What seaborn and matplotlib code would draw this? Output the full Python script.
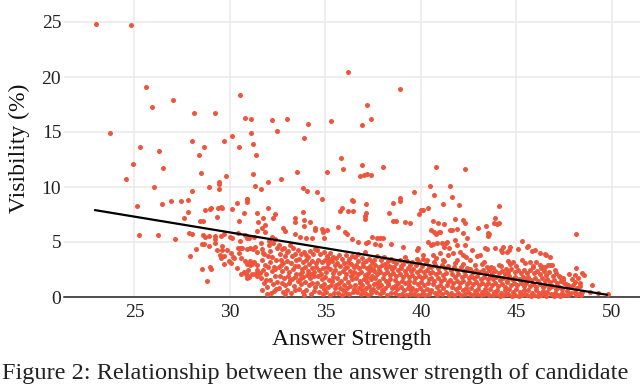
import matplotlib
matplotlib.use("Agg")
import matplotlib.pyplot as plt
import pandas as pd
import seaborn as sns

# points (answer strength, visibility %)
# outliers / sparse points high above the fit line
upper_pts = [
    (23.0, 24.8), (24.8, 24.7), (25.6, 19.1), (25.9, 17.3), (27.0, 17.9), (28.1, 16.75),
    (29.2, 16.7), (23.7, 14.9), (25.3, 13.6), (26.3, 13.3), (28.0, 14.15), (28.65, 13.6),
    (28.4, 12.9), (24.9, 12.05), (26.5, 11.7), (28.5, 11.3), (24.55, 10.7), (26.0, 9.97),
    (28.0, 9.6), (28.9, 9.97), (29.4, 10.5), (29.4, 9.8), (29.45, 10.3),
    (36.2, 20.5), (38.9, 18.9), (30.5, 18.4), (30.8, 16.3), (31.1, 16.2), (32.2, 16.1),
    (33.0, 16.2), (34.1, 15.75), (35.3, 16.0), (37.2, 17.5), (37.4, 16.15), (36.9, 15.6),
    (31.1, 14.9), (32.45, 15.1), (30.1, 14.6), (29.7, 14.2), (30.45, 13.6), (31.2, 13.9),
    (33.9, 14.5), (31.35, 12.9), (35.8, 12.65), (35.9, 11.65), (36.9, 12.0), (38.0, 11.85),
    (36.8, 11.0), (37.0, 11.1), (37.2, 11.2), (37.4, 11.1), (35.1, 11.35), (33.5, 11.35),
    (31.2, 11.2), (29.8, 10.97), (32.0, 10.5), (32.65, 10.7), (31.3, 10.1), (31.65, 9.8),
    (33.8, 9.9), (34.05, 9.6), (34.55, 9.55), (34.8, 8.95), (30.9, 8.95), (36.4, 8.8),
    (38.9, 9.0), (39.65, 9.55), (40.8, 11.85), (42.3, 11.65), (40.5, 10.1), (41.5, 10.1),
    (40.7, 9.3), (41.6, 9.1), (48.1, 5.75), (25.13, 8.28), (25.24, 5.64), (26.23, 5.64),
]

# left part of the cloud, strength 26-31.5
left_pts = [
    (26.43, 8.42), (26.92, 8.72), (27.46, 8.75), (27.79, 8.82), (27.81, 7.76), (27.58, 7.15),
    (28.43, 6.94), (28.61, 6.94), (28.68, 7.91), (28.94, 8.0), (29.03, 8.06), (29.38, 8.06),
    (29.53, 8.21), (29.59, 8.06), (29.34, 7.27), (30.11, 8.0), (30.35, 8.51), (30.46, 6.91),
    (30.88, 8.91), (30.91, 8.66), (30.72, 7.6), (31.49, 6.85), (27.11, 5.24), (27.88, 5.79),
    (28.02, 5.73), (28.61, 5.64), (28.68, 5.45), (28.91, 5.51), (29.2, 5.57), (29.24, 5.24),
    (29.53, 5.51), (29.69, 5.7), (29.99, 5.48), (30.09, 5.39), (30.42, 5.85), (30.55, 5.12),
    (30.79, 5.64), (30.91, 5.39), (31.02, 5.39), (31.24, 5.42), (31.44, 6.03), (28.54, 4.79),
    (28.63, 4.79), (28.22, 4.36), (27.89, 3.73), (28.89, 4.66), (29.22, 4.94), (29.34, 4.27),
    (29.57, 4.66), (29.6, 4.27), (29.71, 3.73), (29.85, 4.27), (30.07, 3.97), (30.14, 3.6),
    (30.41, 4.42), (30.55, 4.42), (30.65, 4.48), (30.48, 4.03), (30.58, 3.51), (30.91, 4.33),
    (31.05, 4.42), (31.23, 4.33), (31.33, 4.57), (31.4, 4.12), (29.48, 3.82), (29.53, 3.51),
    (29.69, 3.0), (29.94, 3.27), (30.06, 3.09), (30.21, 3.57), (30.39, 2.66), (30.81, 3.3),
    (30.91, 3.03), (31.03, 3.27), (31.05, 2.91), (31.16, 2.97), (31.28, 3.21), (31.4, 2.91),
    (31.49, 2.3), (28.56, 2.54), (28.98, 2.76), (28.99, 2.54), (28.8, 1.48), (30.58, 2.12),
    (30.74, 2.24), (30.84, 2.12), (30.91, 2.0), (31.02, 1.85), (31.14, 2.12), (31.31, 2.06),
    (31.44, 1.88), (30.97, 2.42), (31.4, 2.45), (30.88, 1.7),
]

# sparse points above the dense band, strength 31.5-42
mid_pts = [
    (32.0, 8.06), (32.34, 7.51), (32.27, 7.15), (33.4, 7.15), (33.4, 6.85), (33.87, 7.0),
    (33.87, 6.45), (34.43, 6.06), (34.47, 6.24), (34.82, 6.15), (31.81, 6.54), (31.66, 6.24),
    (31.85, 5.94), (32.79, 6.24), (32.88, 6.03), (33.39, 5.73), (33.66, 5.48), (33.98, 5.33),
    (34.27, 5.33), (34.89, 5.94), (34.92, 5.33), (35.64, 6.33), (36.02, 5.94), (36.14, 5.7),
    (36.37, 5.24), (36.72, 5.03), (32.22, 5.42), (32.34, 5.27), (35.76, 7.85), (35.88, 8.06),
    (36.2, 7.82), (36.44, 7.85), (36.42, 8.72), (31.4, 7.61), (31.75, 7.15), (33.84, 7.76),
    (34.19, 6.85), (35.06, 6.1), (37.1, 8.5), (37.11, 7.61), (38.35, 7.61), (38.55, 8.51),
    (38.9, 8.72), (37.07, 7.39), (37.07, 7.09), (38.55, 6.94), (38.68, 6.94), (39.17, 6.85),
    (39.43, 6.7), (39.99, 7.91), (40.13, 7.91), (40.35, 8.12), (39.88, 7.54), (40.61, 6.94),
    (40.91, 6.7), (41.17, 8.45), (41.61, 6.09), (40.51, 6.09), (40.68, 5.94), (40.96, 5.88),
    (40.79, 5.7), (37.42, 5.48), (37.68, 5.33), (37.86, 5.39), (38.03, 5.33), (37.12, 4.88),
    (37.25, 5.03), (37.6, 4.79), (37.86, 4.73), (38.42, 4.85), (39.08, 4.57), (39.86, 4.42),
    (39.78, 4.27), (40.39, 5.03), (40.51, 4.73), (40.65, 4.79), (40.82, 4.88), (41.09, 4.88),
    (41.21, 4.57), (41.38, 5.03), (41.49, 4.42), (41.78, 5.18), (41.9, 4.73), (41.0, 3.97),
    (40.65, 3.82), (40.79, 3.51), (41.17, 3.36), (41.43, 3.82), (41.7, 3.97), (41.87, 3.36),
    (40.13, 3.82), (40.3, 3.36),
]

# sparse points above the dense band, strength 41-50
right_pts = [
    (41.97, 8.36), (44.1, 8.27), (43.9, 7.2), (41.8, 7.1), (42.3, 6.75), (41.2, 6.6),
    (41.5, 6.1), (41.9, 6.2), (42.2, 5.85), (41.0, 5.9), (43.0, 6.25), (43.4, 6.5),
    (43.8, 6.7), (44.1, 6.75), (43.55, 5.7), (45.3, 5.1), (45.6, 4.6), (41.3, 4.9),
    (42.3, 4.7), (42.65, 4.3), (44.2, 4.3), (44.6, 4.3), (45.8, 4.2), (43.96, 6.6),
    (42.21, 7.0), (42.39, 5.33), (43.52, 5.79), (43.52, 5.54), (45.53, 4.57), (43.35, 4.48),
    (43.44, 4.33), (43.87, 4.48), (44.31, 4.57), (44.66, 4.57), (44.22, 4.06), (44.48, 4.12),
    (45.09, 4.33), (45.97, 4.27), (46.23, 3.97), (46.54, 3.82), (46.75, 3.64), (42.04, 4.06),
    (42.21, 3.82), (42.35, 3.66), (42.56, 3.36), (42.91, 3.73), (43.09, 3.82), (43.3, 3.21),
    (43.44, 2.76), (43.79, 2.6), (44.1, 2.91), (44.57, 3.3), (44.83, 3.21), (45.27, 3.36),
    (45.44, 3.06), (45.7, 3.21), (45.88, 2.82), (46.05, 3.21), (46.23, 2.91), (46.49, 2.76),
    (46.75, 2.91), (47.01, 2.45), (47.28, 1.85), (47.45, 1.54), (47.77, 2.06), (48.06, 2.0),
    (48.1, 2.66), (48.41, 2.15), (48.53, 2.0), (48.06, 1.39), (48.32, 1.24), (48.97, 1.09),
    (47.71, 1.09), (48.85, 0.48), (49.28, 0.33), (49.77, 0.27), (46.84, 2.91), (46.4, 2.76),
    (46.67, 2.91), (46.49, 3.88),
]

# dense band under the line, strength 31.5-36.5
band_a = [
    (31.62, 4.95), (31.7, 4.4), (31.78, 3.9), (31.66, 3.35), (31.85, 2.95), (31.72, 2.5),
    (31.9, 2.1), (31.64, 1.75), (31.8, 1.3), (31.95, 0.95), (31.7, 0.6), (32.05, 4.7),
    (32.12, 4.15), (32.2, 3.6), (32.08, 3.15), (32.3, 2.75), (32.18, 2.35), (32.35, 1.95),
    (32.1, 1.55), (32.27, 1.15), (32.4, 0.75), (32.15, 0.35), (32.45, 4.45), (32.42, 3.4),
    (32.38, 2.55), (31.98, 3.7), (31.88, 1.55), (32.0, 2.7), (32.25, 4.9), (31.58, 2.2),
    (32.47, 1.4), (31.93, 0.3), (32.33, 0.55), (31.75, 4.0), (32.02, 5.1),
    (32.55, 4.75), (32.7, 4.4), (32.83, 4.5), (32.6, 3.95), (32.9, 3.7), (33.05, 4.2),
    (33.15, 4.75), (33.3, 4.45), (33.4, 3.9), (32.65, 3.4), (32.8, 3.05), (33.0, 3.3),
    (33.2, 3.1), (33.45, 3.35), (32.58, 2.7), (32.75, 2.4), (32.95, 2.6), (33.1, 2.25),
    (33.3, 2.55), (33.48, 2.1), (32.62, 1.95), (32.85, 1.7), (33.02, 1.9), (33.25, 1.6),
    (33.4, 1.8), (32.7, 1.3), (32.9, 1.05), (33.1, 1.25), (33.35, 1.0), (32.55, 0.8),
    (32.78, 0.5), (33.0, 0.65), (33.2, 0.35), (33.43, 0.6), (32.88, 0.25), (33.15, 1.55),
    (32.68, 2.9), (33.38, 2.85), (32.98, 4.05), (33.27, 3.75),
    (33.55, 4.3), (33.7, 3.95), (33.87, 4.12), (34.0, 3.8), (34.19, 4.18), (34.35, 3.95),
    (34.45, 4.4), (33.62, 3.45), (33.8, 3.2), (34.0, 3.4), (34.15, 3.0), (34.3, 3.3),
    (34.48, 3.05), (33.58, 2.8), (33.75, 2.55), (33.95, 2.75), (34.1, 2.4), (34.28, 2.65),
    (34.42, 2.3), (33.65, 2.05), (33.85, 1.8), (34.02, 2.0), (34.2, 1.7), (34.38, 1.95),
    (33.55, 1.45), (33.72, 1.2), (33.92, 1.35), (34.12, 1.05), (34.32, 1.3), (34.47, 0.95),
    (33.6, 0.7), (33.8, 0.45), (34.0, 0.6), (34.22, 0.3), (34.4, 0.55), (33.9, 0.2),
    (34.25, 2.1), (33.68, 1.65), (34.08, 3.65), (33.78, 2.3),
    (34.55, 4.25), (34.71, 3.9), (34.9, 4.1), (35.06, 3.75), (35.25, 4.0), (35.4, 3.6),
    (34.6, 3.4), (34.8, 3.15), (34.97, 3.35), (35.15, 3.05), (35.32, 3.3), (35.5, 2.95),
    (34.52, 2.7), (34.68, 2.45), (34.88, 2.65), (35.05, 2.3), (35.22, 2.55), (35.42, 2.2),
    (34.62, 1.9), (34.82, 1.65), (35.0, 1.85), (35.18, 1.55), (35.38, 1.8), (34.55, 1.25),
    (34.75, 1.0), (34.95, 1.2), (35.12, 0.9), (35.3, 1.1), (35.48, 0.8), (34.65, 0.5),
    (34.85, 0.3), (35.05, 0.45), (35.25, 0.2), (35.45, 0.4), (35.1, 2.75), (34.78, 2.05),
    (35.35, 1.45), (34.92, 0.7), (35.2, 3.5),
    (35.55, 3.55), (35.7, 3.85), (35.88, 3.5), (36.07, 3.82), (36.25, 3.45), (36.4, 3.7),
    (35.6, 3.1), (35.78, 2.85), (35.95, 3.05), (36.15, 2.75), (36.32, 3.0), (36.48, 2.7),
    (35.52, 2.45), (35.7, 2.2), (35.9, 2.4), (36.08, 2.1), (36.28, 2.35), (36.45, 2.05),
    (35.62, 1.75), (35.82, 1.5), (36.0, 1.7), (36.2, 1.4), (36.38, 1.65), (35.55, 1.1),
    (35.75, 0.85), (35.95, 1.05), (36.12, 0.8), (36.3, 1.0), (36.47, 0.7), (35.65, 0.35),
    (35.85, 0.2), (36.05, 0.4), (36.25, 0.25), (36.42, 0.45), (36.0, 2.6), (35.72, 1.3),
    (36.35, 1.9), (35.9, 0.6), (36.18, 3.2),
]

# dense band, strength 36.5-41.5
band_b = [
    (36.54, 3.6), (36.72, 3.3), (36.9, 3.55), (37.1, 3.25), (37.3, 3.5), (37.45, 3.2),
    (36.6, 2.9), (36.78, 2.65), (36.95, 2.85), (37.15, 2.6), (37.35, 2.8), (37.5, 2.55),
    (36.52, 2.3), (36.7, 2.05), (36.88, 2.25), (37.05, 2.0), (37.25, 2.2), (37.42, 1.95),
    (36.62, 1.7), (36.8, 1.45), (37.0, 1.65), (37.2, 1.4), (37.38, 1.6), (36.55, 1.1),
    (36.75, 0.85), (36.93, 1.05), (37.12, 0.8), (37.3, 1.0), (37.48, 0.75), (36.65, 0.45),
    (36.85, 0.25), (37.05, 0.4), (37.22, 0.2), (37.4, 0.35), (36.98, 3.05), (37.18, 1.8),
    (36.82, 1.25), (37.32, 2.45), (36.68, 3.9), (37.08, 4.1), (37.4, 0.6), (36.9, 0.6),
    (37.55, 3.4), (37.72, 3.7), (37.9, 3.35), (38.08, 3.6), (38.25, 3.25), (38.42, 3.5),
    (37.6, 2.95), (37.8, 2.7), (37.98, 2.9), (38.15, 2.6), (38.35, 2.85), (38.5, 2.55),
    (37.52, 2.35), (37.7, 2.1), (37.88, 2.3), (38.05, 2.05), (38.22, 2.25), (38.4, 2.0),
    (37.62, 1.75), (37.82, 1.5), (38.0, 1.7), (38.18, 1.45), (38.38, 1.65), (37.55, 1.15),
    (37.75, 0.9), (37.93, 1.1), (38.12, 0.85), (38.3, 1.05), (38.47, 0.8), (37.65, 0.5),
    (37.85, 0.3), (38.03, 0.45), (38.22, 0.2), (38.42, 0.4), (38.1, 3.0), (37.78, 2.45),
    (38.3, 1.3), (37.95, 0.65), (38.45, 2.7), (37.68, 1.25),
    (38.55, 3.3), (38.72, 3.05), (38.9, 3.35), (39.08, 3.0), (39.25, 3.25), (39.42, 2.95),
    (38.6, 2.7), (38.78, 2.45), (38.95, 2.65), (39.15, 2.4), (39.32, 2.6), (39.5, 2.35),
    (38.52, 2.15), (38.7, 1.9), (38.88, 2.1), (39.05, 1.85), (39.22, 2.05), (39.4, 1.8),
    (38.62, 1.55), (38.82, 1.3), (39.0, 1.5), (39.18, 1.25), (39.38, 1.45), (38.55, 0.95),
    (38.75, 0.7), (38.93, 0.9), (39.12, 0.65), (39.3, 0.85), (39.48, 0.6), (38.65, 0.35),
    (38.85, 0.2), (39.03, 0.3), (39.22, 0.15), (39.42, 0.3), (38.98, 2.85), (39.35, 1.05),
    (38.68, 1.1), (39.15, 3.6),
    (39.55, 3.15), (39.72, 2.9), (39.9, 3.2), (40.08, 2.85), (40.25, 3.1), (40.42, 2.8),
    (39.6, 2.55), (39.78, 2.3), (39.95, 2.5), (40.15, 2.25), (40.32, 2.45), (40.5, 2.2),
    (39.52, 2.0), (39.7, 1.75), (39.88, 1.95), (40.05, 1.7), (40.22, 1.9), (40.4, 1.65),
    (39.62, 1.4), (39.82, 1.15), (40.0, 1.35), (40.18, 1.1), (40.38, 1.3), (39.55, 0.85),
    (39.75, 0.6), (39.93, 0.8), (40.12, 0.55), (40.3, 0.75), (40.47, 0.5), (39.65, 0.3),
    (39.85, 0.15), (40.03, 0.25), (40.22, 0.15), (40.42, 0.25), (39.78, 3.5), (40.1, 3.5),
    (40.55, 2.7), (40.72, 2.95), (40.9, 2.65), (41.08, 2.9), (41.25, 2.6), (41.42, 2.85),
    (40.6, 2.3), (40.78, 2.05), (40.95, 2.25), (41.15, 2.0), (41.32, 2.2), (40.52, 1.75),
    (40.7, 1.5), (40.88, 1.7), (41.05, 1.45), (41.22, 1.65), (41.4, 1.4), (40.62, 1.15),
    (40.82, 0.9), (41.0, 1.1), (41.18, 0.85), (41.38, 1.05), (40.55, 0.6), (40.75, 0.35),
    (40.93, 0.55), (41.12, 0.3), (41.3, 0.5), (41.48, 0.2), (40.85, 0.15), (41.2, 3.3),
    (40.68, 3.2),
]

# dense band, strength 41.5-48.5
band_c = [
    (41.55, 2.5), (41.72, 2.75), (41.9, 2.45), (42.08, 2.7), (42.25, 2.4), (42.42, 2.65),
    (41.6, 2.1), (41.78, 1.85), (41.95, 2.05), (42.15, 1.8), (42.32, 2.0), (42.5, 1.75),
    (41.52, 1.55), (41.7, 1.3), (41.88, 1.5), (42.05, 1.25), (42.22, 1.45), (42.4, 1.2),
    (41.62, 0.95), (41.82, 0.7), (42.0, 0.9), (42.18, 0.65), (42.38, 0.85), (41.55, 0.4),
    (41.75, 0.2), (41.93, 0.35), (42.12, 0.15), (42.3, 0.3), (42.47, 0.45), (41.8, 3.1),
    (42.2, 3.0),
    (42.55, 2.55), (42.72, 2.3), (42.9, 2.5), (43.08, 2.25), (43.25, 2.45), (43.42, 2.2),
    (42.6, 1.95), (42.78, 1.7), (42.95, 1.9), (43.15, 1.65), (43.32, 1.85), (43.5, 1.6),
    (42.52, 1.4), (42.7, 1.15), (42.88, 1.35), (43.05, 1.1), (43.22, 1.3), (43.4, 1.05),
    (42.62, 0.8), (42.82, 0.55), (43.0, 0.75), (43.18, 0.5), (43.38, 0.7), (42.55, 0.25),
    (42.75, 0.15), (42.93, 0.3), (43.12, 0.15), (43.3, 0.25), (43.47, 0.4), (42.85, 2.9),
    (43.2, 3.0),
    (43.55, 2.45), (43.72, 2.2), (43.9, 2.4), (44.08, 2.15), (44.25, 2.35), (44.42, 2.1),
    (43.6, 1.85), (43.78, 1.6), (43.95, 1.8), (44.15, 1.55), (44.32, 1.75), (44.5, 1.5),
    (43.52, 1.3), (43.7, 1.05), (43.88, 1.25), (44.05, 1.0), (44.22, 1.2), (44.4, 0.95),
    (43.62, 0.7), (43.82, 0.45), (44.0, 0.65), (44.18, 0.4), (44.38, 0.6), (43.55, 0.2),
    (43.75, 0.15), (43.93, 0.25), (44.12, 0.12), (44.3, 0.2), (44.47, 0.3), (43.65, 2.75),
    (44.2, 2.8), (44.45, 2.55),
    (44.55, 2.3), (44.72, 2.55), (44.9, 2.25), (45.08, 2.5), (45.25, 2.2), (45.42, 2.45),
    (44.6, 1.9), (44.78, 1.65), (44.95, 1.85), (45.15, 1.6), (45.32, 1.8), (45.5, 1.55),
    (44.52, 1.35), (44.7, 1.1), (44.88, 1.3), (45.05, 1.05), (45.22, 1.25), (45.4, 1.0),
    (44.62, 0.75), (44.82, 0.5), (45.0, 0.7), (45.18, 0.45), (45.38, 0.65), (44.55, 0.25),
    (44.75, 0.12), (44.93, 0.2), (45.12, 0.1), (45.3, 0.18), (45.47, 0.3), (45.0, 2.85),
    (44.68, 3.0),
    (45.55, 2.2), (45.72, 2.45), (45.9, 2.15), (46.08, 2.4), (46.25, 2.1), (46.42, 2.35),
    (45.6, 1.8), (45.78, 1.55), (45.95, 1.75), (46.15, 1.5), (46.32, 1.7), (46.5, 1.45),
    (45.52, 1.25), (45.7, 1.0), (45.88, 1.2), (46.05, 0.95), (46.22, 1.15), (46.4, 0.9),
    (45.62, 0.65), (45.82, 0.4), (46.0, 0.6), (46.18, 0.35), (46.38, 0.55), (45.55, 0.15),
    (45.75, 0.1), (45.93, 0.2), (46.12, 0.1), (46.3, 0.2), (46.47, 0.25), (45.85, 2.7),
    (46.3, 2.6),
    (46.55, 2.0), (46.72, 2.25), (46.9, 1.95), (47.08, 2.2), (47.25, 1.9), (47.42, 1.7),
    (46.6, 1.6), (46.78, 1.35), (46.95, 1.55), (47.15, 1.3), (47.32, 1.5), (47.5, 1.25),
    (46.52, 1.05), (46.7, 0.8), (46.88, 1.0), (47.05, 0.75), (47.22, 0.95), (47.4, 0.7),
    (46.62, 0.45), (46.82, 0.25), (47.0, 0.4), (47.18, 0.2), (47.38, 0.35), (46.55, 0.12),
    (46.95, 0.12), (47.28, 0.1), (47.47, 0.2),
    (47.6, 1.2), (47.78, 0.95), (47.95, 1.1), (48.15, 0.85), (48.35, 1.0), (47.65, 0.55),
    (47.85, 0.35), (48.05, 0.5), (48.25, 0.3), (48.45, 0.45), (47.7, 0.15), (48.1, 0.15),
    (48.4, 0.15), (47.9, 1.6), (48.2, 1.7),
]

# linear fit drawn in the reference (end points)
fit_x = [22.93, 49.75]
fit_y = [7.9, 0.2]

x_ticks = [25, 30, 35, 40, 45, 50]
y_ticks = [0, 5, 10, 15, 20, 25]

# the part of the paper's caption that is visible in the image
caption = "Figure 2: Relationship between the answer strength of candidate"

pts = upper_pts + left_pts + mid_pts + right_pts + band_a + band_b + band_c
df = pd.DataFrame(pts, columns=["strength", "visibility"])
fit = pd.DataFrame({"strength": fit_x, "visibility": fit_y})

sns.set_style("white")
plt.rcParams["font.family"] = ["Liberation Serif", "DejaVu Serif"]

fig = plt.figure(figsize=(6.4, 3.84), dpi=100)
ax = fig.add_axes([64 / 640, 1 - 297 / 384, 576 / 640, 297 / 384])

sns.scatterplot(data=df, x="strength", y="visibility", ax=ax,
                color="#EF553B", s=13, linewidth=0, alpha=1.0,
                clip_on=False, zorder=3)
sns.lineplot(data=fit, x="strength", y="visibility", ax=ax,
             color="black", linewidth=1.6, zorder=4)

ax.set_xlim(21.31, 51.47)
ax.set_ylim(0, 27.0)
ax.set_xticks(x_ticks)
ax.set_yticks(y_ticks)
ax.grid(True, color="#ebebeb", linewidth=1.2)
ax.set_axisbelow(True)
for side in ["top", "right", "left"]:
    ax.spines[side].set_visible(False)
ax.spines["bottom"].set_color("#222222")
ax.spines["bottom"].set_linewidth(1.1)
ax.spines["bottom"].set_zorder(2)
ax.tick_params(axis="both", length=0, labelsize=14, colors="#222222")
ax.tick_params(axis="x", pad=5)
ax.tick_params(axis="y", pad=2)

ax.set_xlabel("Answer Strength", fontsize=17, labelpad=6, color="#111111")
ax.set_ylabel("Visibility (%)", fontsize=17, labelpad=8, color="#111111")

fig.text(0.003, 0.012, caption, fontsize=17.5, color="#222222",
         va="baseline", ha="left")

fig.savefig("out.png", dpi=100)
